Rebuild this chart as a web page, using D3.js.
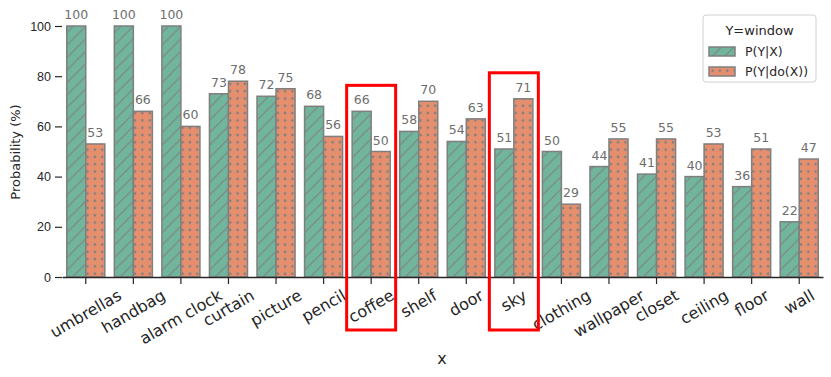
<!DOCTYPE html>
<html>
<head>
<meta charset="utf-8">
<script src="https://cdn.jsdelivr.net/npm/d3@7"></script>
<style>
  body { margin: 0; background: #fff; }
  svg { font-family: "DejaVu Sans", sans-serif; }
</style>
</head>
<body>
<svg id="chart" width="831" height="377"></svg>
<script>
// 类别与两组数值
const categories = ["umbrellas", "handbag", "alarm clock", "curtain", "picture", "pencil", "coffee", "shelf",
    "door", "sky", "clothing", "wallpaper", "closet", "ceiling", "floor", "wall"];
const seriesNames = ["P(Y|X)", "P(Y|do(X))"];
const pYX = [100, 100, 100, 73, 72, 68, 66, 58, 54, 51, 50, 44, 41, 40, 36, 22];
const pYdoX = [53, 66, 60, 78, 75, 56, 50, 70, 63, 71, 29, 55, 55, 53, 51, 47];
const yTicks = [0, 20, 40, 60, 80, 100];
const highlighted = ["coffee", "sky"];

const colors = ["#70b59c", "#e58f6e"];
const edge = "#7f7f7f";
const ink = "#262626";

const svg = d3.select("#chart");
const defs = svg.append("defs");

// 斜线填充
const hs = 12.5;
const hatch = defs.append("pattern")
    .attr("id", "hatch-slash")
    .attr("patternUnits", "userSpaceOnUse")
    .attr("width", hs).attr("height", hs);
hatch.append("rect").attr("width", hs).attr("height", hs).attr("fill", colors[0]);
hatch.append("path")
    .attr("d", `M-2,${hs + 2} L${hs + 2},-2 M-2,2 L2,-2 M${hs - 2},${hs + 2} L${hs + 2},${hs - 2}`)
    .attr("stroke", edge).attr("stroke-width", 1);

// 点状填充
const ds = 7.3;
const dots = defs.append("pattern")
    .attr("id", "hatch-dots")
    .attr("patternUnits", "userSpaceOnUse")
    .attr("width", ds).attr("height", ds);
dots.append("rect").attr("width", ds).attr("height", ds).attr("fill", colors[1]);
dots.append("circle").attr("cx", ds / 2).attr("cy", ds / 2).attr("r", 1.3).attr("fill", edge);

const fills = ["url(#hatch-slash)", "url(#hatch-dots)"];

const x = d3.scaleBand().domain(categories).range([62, 823]).padding(0);
const xs = d3.scaleBand().domain(seriesNames)
    .range([x.step() * 0.1, x.step() * 0.9]).padding(0);
const y = d3.scaleLinear().domain([0, 100]).range([277, 26]);

const rows = categories.map((c, i) => ({ cat: c, vals: [pYX[i], pYdoX[i]] }));

// 柱子
const groups = svg.append("g").selectAll("g")
    .data(rows).enter().append("g")
    .attr("transform", d => `translate(${x(d.cat)},0)`);

groups.selectAll("rect")
    .data(d => d.vals.map((v, j) => ({ v, j })))
    .enter().append("rect")
    .attr("x", d => xs(seriesNames[d.j]))
    .attr("y", d => y(d.v))
    .attr("width", xs.bandwidth())
    .attr("height", d => y(0) - y(d.v))
    .attr("fill", d => fills[d.j])
    .attr("stroke", edge)
    .attr("stroke-width", 1.5);

// 数值标签
groups.selectAll("text")
    .data(d => d.vals.map((v, j) => ({ v, j })))
    .enter().append("text")
    .attr("x", d => xs(seriesNames[d.j]) + xs.bandwidth() / 2)
    .attr("y", d => y(d.v) - 7)
    .attr("text-anchor", "middle")
    .style("font-size", "12.5px")
    .style("fill", "#6e6e6e")
    .text(d => d.v);

// y轴 (无左侧脊线)
const yAxis = svg.append("g")
    .attr("transform", "translate(62,0)")
    .call(d3.axisLeft(y).tickValues(yTicks).tickSize(7).tickPadding(4));
yAxis.select(".domain").remove();
yAxis.selectAll("line").attr("stroke", ink).attr("stroke-width", 1.2);
yAxis.selectAll("text").style("font-size", "12.5px").style("fill", ink).attr("font-family", null);

// x轴
const xAxis = svg.append("g")
    .attr("transform", "translate(0,277)")
    .call(d3.axisBottom(x).tickSize(7).tickSizeOuter(0).tickFormat(""));
xAxis.select(".domain").attr("stroke", ink).attr("stroke-width", 1.5);
xAxis.selectAll("line").attr("stroke", ink).attr("stroke-width", 1.2);

// 旋转的类别标签（按旋转后的外框居中）
const tickTop = 287;
const angle = 30 * Math.PI / 180;
const xLabels = svg.append("g");
categories.forEach(c => {
    const t = xLabels.append("text")
        .attr("text-anchor", "middle")
        .attr("dominant-baseline", "central")
        .style("font-size", "16px")
        .style("fill", ink)
        .text(c);
    const w = t.node().getComputedTextLength();
    const h = 16 * 1.0;
    const bh = w * Math.sin(angle) + h * Math.cos(angle);
    const cx = x(c) + x.bandwidth() / 2;
    const cy = tickTop + bh / 2;
    t.attr("transform", `translate(${cx},${cy}) rotate(-30)`);
});

// 坐标轴标题
svg.append("text")
    .attr("x", 442).attr("y", 364)
    .attr("text-anchor", "middle")
    .style("font-size", "16px").style("fill", ink)
    .text("x");

svg.append("text")
    .attr("transform", "translate(20,152) rotate(-90)")
    .attr("text-anchor", "middle")
    .style("font-size", "13px").style("fill", ink)
    .text("Probability (%)");

// 红色高亮框
highlighted.forEach(c => {
    const i = categories.indexOf(c);
    const top = y(Math.max(pYX[i], pYdoX[i])) - 26;
    const cx = x(c) + x.bandwidth() / 2;
    svg.append("rect")
        .attr("x", cx - 24.5)
        .attr("y", top)
        .attr("width", 49)
        .attr("height", 330 - top)
        .attr("fill", "none")
        .attr("stroke", "#ff0000")
        .attr("stroke-width", 3);
});

// 图例
const legend = svg.append("g").attr("transform", "translate(703,15)");
legend.append("rect")
    .attr("width", 113).attr("height", 67)
    .attr("rx", 3)
    .attr("fill", "#fff").attr("fill-opacity", 0.8)
    .attr("stroke", "#d0d0d0");
legend.append("text")
    .attr("x", 56.5).attr("y", 20)
    .attr("text-anchor", "middle")
    .style("font-size", "13px").style("fill", ink)
    .text("Y=window");
seriesNames.forEach((s, j) => {
    const row = legend.append("g").attr("transform", `translate(6,${32 + j * 20})`);
    row.append("rect")
        .attr("width", 26).attr("height", 9)
        .attr("fill", fills[j])
        .attr("stroke", edge).attr("stroke-width", 1.5);
    row.append("text")
        .attr("x", 36).attr("y", 9)
        .style("font-size", "12.5px").style("fill", ink)
        .text(s);
});
</script>
</body>
</html>
